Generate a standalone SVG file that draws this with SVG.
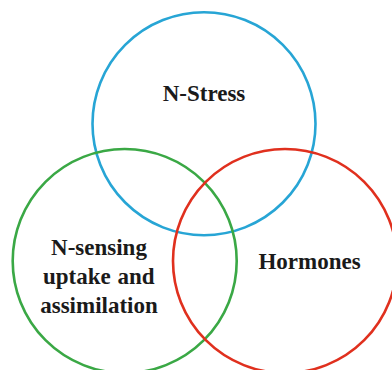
<svg xmlns="http://www.w3.org/2000/svg" width="392" height="370" viewBox="0 0 392 370">
<style>
.c{fill:none;stroke-width:2.6}
.t{font-family:"Liberation Serif","Times New Roman",serif;font-weight:bold;font-size:23px;fill:#1a1a1a;text-anchor:middle}
</style>
<rect width="392" height="370" fill="#fff"/>
<g id="n-stress">
<circle class="c" cx="204" cy="123.7" r="111.5" stroke="#27a5d5"/>
<text class="t" x="204" y="101" font-size="23.5">N-Stress</text>
</g>
<g id="n-sensing">
<circle class="c" cx="124.7" cy="261" r="112" stroke="#3aa845"/>
<text class="t" x="99"><tspan x="99" y="255">N-sensing</tspan><tspan x="98.7" y="284" word-spacing="1">uptake and</tspan><tspan x="99" y="313">assimilation</tspan></text>
</g>
<g id="hormones">
<circle class="c" cx="285" cy="261" r="112" stroke="#e0301e"/>
<text class="t" x="309.5" y="268.5">Hormones</text>
</g>
<g id="connectors"/>
</svg>
